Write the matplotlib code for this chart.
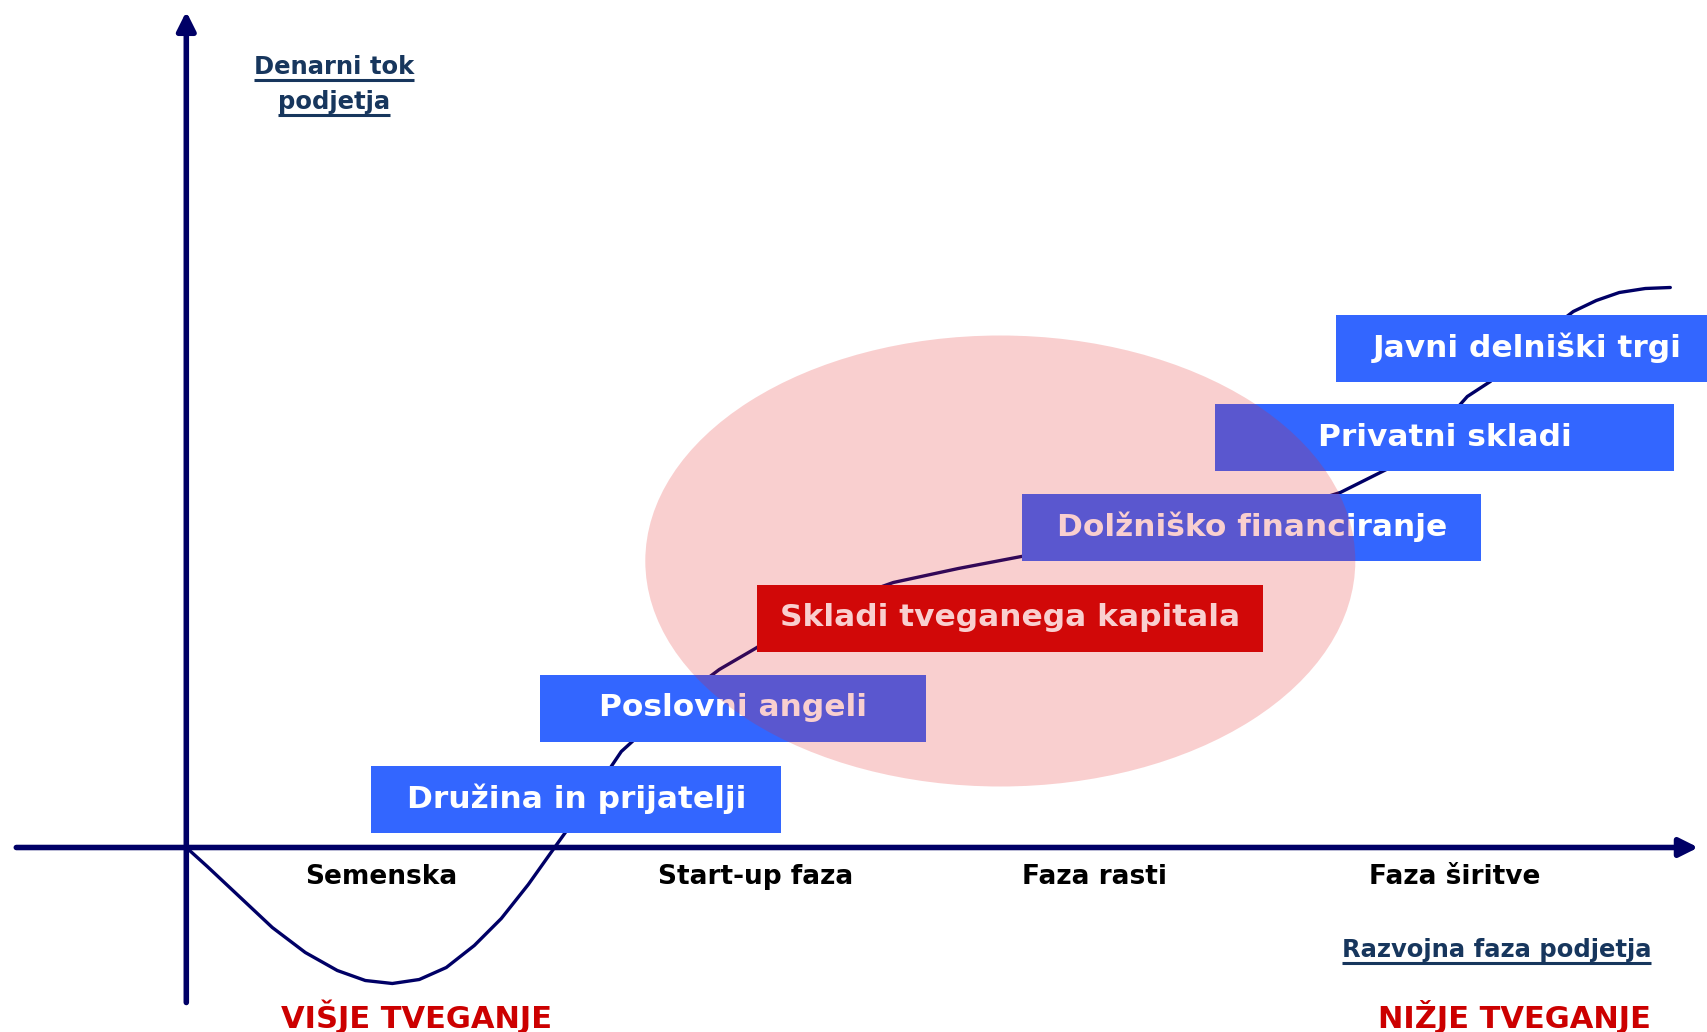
"""
Financiranje podjetja po razvojnih fazah - diagram denarnega toka
"""

import matplotlib.pyplot as plt
from matplotlib.patches import Ellipse, Rectangle

# Krivulja denarnega toka (izhodisce = presecisce osi)
curve_x = [0, 21, 53, 86, 119, 151, 179, 206, 233, 260, 288, 315, 342, 369, 402, 435,
           489, 533, 569, 631, 707, 772, 835, 903, 1012, 1099, 1154, 1200, 1241,
           1281, 1304, 1339, 1387, 1410, 1433, 1459, 1484]
curve_y = [0, -19, -49, -80, -105, -123, -133, -136, -132, -120, -98, -71, -37, 1, 47, 96,
           145, 178, 199, 238, 265, 279, 291, 303, 319, 338, 355, 378, 406,
           451, 466, 499, 536, 547, 555, 559, 560]

# Viri financiranja
sources = ["Družina in prijatelji", "Poslovni angeli", "Skladi tveganega kapitala",
           "Dolžniško financiranje", "Privatni skladi", "Javni delniški trgi"]
source_left = [185, 354, 571, 836, 1029, 1150]
source_right = [595, 740, 1077, 1295, 1488, 1532]
source_bottom = [15, 106, 196, 287, 377, 466]
source_highlight = [False, False, True, False, False, False]

# Razvojne faze
phases = ["Semenska", "Start-up faza", "Faza rasti", "Faza širitve"]
phase_x = [195, 569, 908, 1268]

NAVY = '#000066'
TITLE_BLUE = '#17365D'
BOX_BLUE = '#3366FF'
RED = '#CC0000'
BOX_H = 67

fig = plt.figure(figsize=(17.08, 10.32), dpi=100)
ax = fig.add_axes([0, 0, 1, 1])
ax.set_xlim(-186.3, 1521.7)
ax.set_ylim(-184.5, 847.5)
ax.axis('off')

# Osi
ax.annotate('', xy=(0, 836), xytext=(0, -155),
            arrowprops=dict(arrowstyle='-|>', lw=4, color=NAVY, mutation_scale=28,
                            shrinkA=0, shrinkB=0), zorder=3)
ax.annotate('', xy=(1512, 0), xytext=(-170, 0),
            arrowprops=dict(arrowstyle='-|>', lw=4, color=NAVY, mutation_scale=28,
                            shrinkA=0, shrinkB=0), zorder=3)

# Krivulja
ax.plot(curve_x, curve_y, color=NAVY, lw=2.4, solid_joinstyle='round',
        solid_capstyle='round', zorder=2)

# Okvirji virov financiranja
for name, x0, x1, y0, hl in zip(sources, source_left, source_right, source_bottom,
                                 source_highlight):
    ax.add_patch(Rectangle((x0, y0), x1 - x0, BOX_H, facecolor=RED if hl else BOX_BLUE,
                           edgecolor='none', zorder=4, clip_on=False))
    ax.text((x0 + x1) / 2, y0 + BOX_H / 2, name, color='white', fontsize=22.5,
            fontweight='bold', ha='center', va='center', zorder=5)

# Elipsa (obmocje tveganega kapitala)
ax.add_patch(Ellipse((814, 286.5), 710, 451, facecolor=(0.9, 0.15, 0.15, 0.22),
                     edgecolor='none', zorder=6))

# Faze
for name, x in zip(phases, phase_x):
    ax.text(x, -30, name, color='black', fontsize=19, fontweight='bold',
            ha='center', va='center', zorder=5)

# Naslovi osi (podcrtani)
titles = [
    ax.text(148, 781, "Denarni tok", color=TITLE_BLUE, fontsize=17.5,
            fontweight='bold', ha='center', va='center'),
    ax.text(148, 746, "podjetja", color=TITLE_BLUE, fontsize=17.5,
            fontweight='bold', ha='center', va='center'),
    ax.text(1465, -102, "Razvojna faza podjetja", color=TITLE_BLUE, fontsize=17.5,
            fontweight='bold', ha='right', va='center'),
]

ax.text(95, -152, "VIŠJE TVEGANJE", color=RED, fontsize=22, fontweight='bold',
        ha='left', va='top')
ax.text(1465, -152, "NIŽJE TVEGANJE", color=RED, fontsize=22, fontweight='bold',
        ha='right', va='top')

fig.canvas.draw()
renderer = fig.canvas.get_renderer()
inv = ax.transData.inverted()
for t in titles:
    bb = t.get_window_extent(renderer)
    (x0, y0), (x1, _) = inv.transform([(bb.x0, bb.y0), (bb.x1, bb.y1)])
    ax.plot([x0, x1], [y0 - 1, y0 - 1], color=TITLE_BLUE, lw=2.2,
            solid_capstyle='butt')

fig.savefig('out.png', dpi=100)
